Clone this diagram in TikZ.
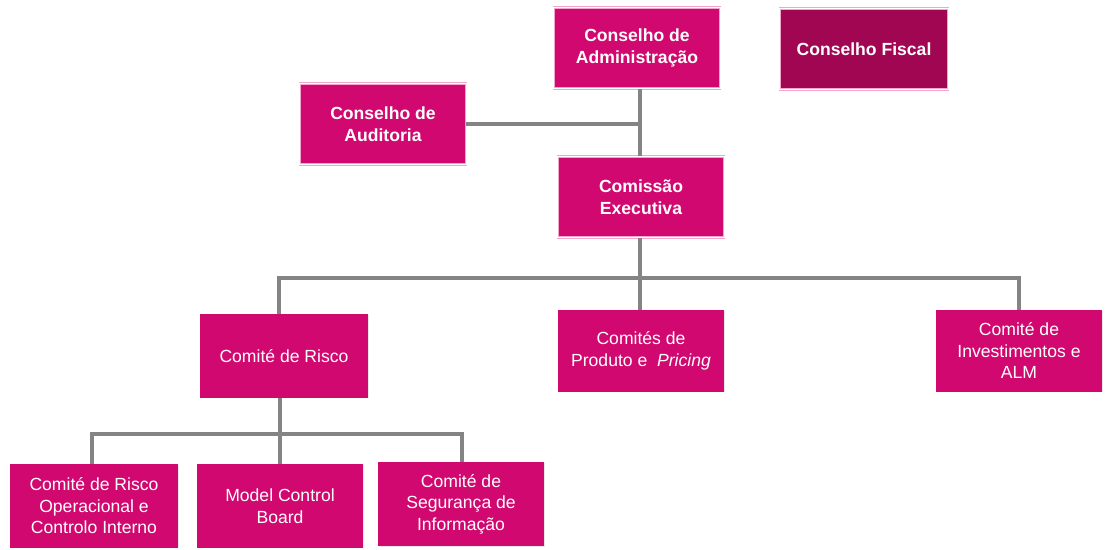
\documentclass[tikz,border=0pt]{standalone}
\usepackage{fontspec}
\setmainfont{Liberation Sans}
\usetikzlibrary{positioning, shadows}
\definecolor{cmag}{HTML}{D1086F}
\definecolor{cwine}{HTML}{A00652}
\definecolor{cedge}{HTML}{F2A6CB}
\definecolor{cline}{HTML}{848484}
\tikzset{
  every picture/.style={x=0.025cm, y=-0.025cm},
  box/.style={fill=#1, text=white, align=center, inner sep=2pt,
    minimum width=4.15cm, minimum height=2.03cm,
    font=\fontsize{12.5}{15.3}\selectfont,
    drop shadow={shadow xshift=0.6pt, shadow yshift=-0.6pt, fill=black!18}},
  box/.default=cmag,
  topbox/.style={box=#1, draw=cedge, line width=0.6pt, double=white, double distance=0.7pt,
    font=\fontsize{12.5}{15.6}\selectfont\bfseries},
  topbox/.default=cmag,
  link/.style={draw=cline, line width=2.8pt},
}
\begin{document}
\begin{tikzpicture}
  \useasboundingbox (0,0) rectangle (1113,549);
  % board level
  \node[topbox] (adm) at (637,48) {Conselho de\\Administração};
  \node[topbox=cwine, minimum width=4.2cm] (fis) at (864,49) {Conselho Fiscal};
  \node[topbox] (aud) at (383,124) {Conselho de\\Auditoria};
  \node[topbox] (exec) at (641,197) {Comissão\\Executiva};
  % committees
  \node[box, minimum width=4.2cm, minimum height=2.08cm] (risk) at (284,356) {Comité de Risco};
  \node[box] (prod) at (641,351) {Comités de\\Produto e \ \textit{Pricing}};
  \node[box] (inv) at (1019,351) {Comité de\\Investimentos e\\ALM};
  % risk sub-committees
  \node[box, minimum width=4.2cm, minimum height=2.08cm] (oper) at (94,506) {Comité de Risco\\Operacional e\\Controlo Interno};
  \node[box, minimum height=2.08cm] (mcb) at (280,506) {Model Control\\Board};
  \node[box, minimum height=2.1cm] (seg) at (461,504) {Comité de\\Segurança de\\Informação};
  % connectors
  \coordinate (jaud) at (640,124);
  \coordinate (jtop) at (640,278);
  \coordinate (jrisk) at (280,434);
  \draw[link] (adm.south -| jaud) -- (exec.north -| jaud);
  \draw[link] (aud.east) -- (jaud);
  \draw[link] (exec.south -| jtop) -- (jtop);
  \draw[link] (risk.north -| 279,0) |- (jtop) -| (inv.north);
  \draw[link] (jtop) -- (prod.north -| jtop);
  \draw[link] (risk.south -| jrisk) -- (jrisk);
  \draw[link] (oper.north -| 92,0) |- (jrisk) -| (seg.north -| 462,0);
  \draw[link] (jrisk) -- (mcb.north -| jrisk);
\end{tikzpicture}
\end{document}
